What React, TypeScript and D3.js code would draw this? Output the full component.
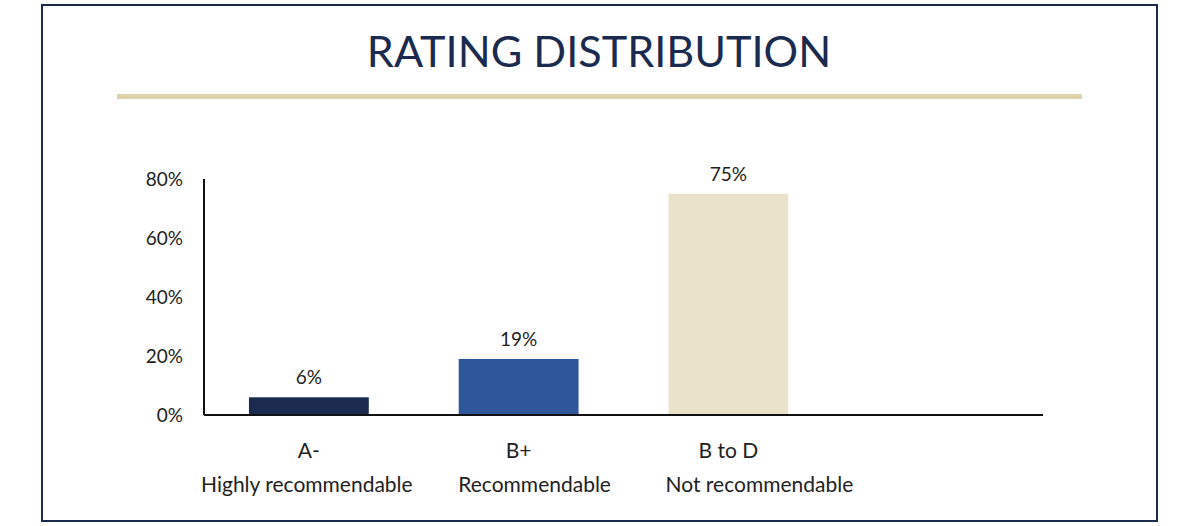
import * as d3 from "d3";
import { useEffect, useRef } from "react";

const TITLE = "RATING DISTRIBUTION";
const grades = ["A-", "B+", "B to D"];
const descriptions = ["Highly recommendable", "Recommendable", "Not recommendable"];
const shares = [0.06, 0.19, 0.75];
const barColors = ["#1b2b4f", "#2f559b", "#ebe2cb"];
const yTicks = [0, 0.2, 0.4, 0.6, 0.8];

// the description lines in the original are not quite centred under their bars
const descShift = [-2, 16, 31];

const NAVY = "#1b2b4f";
const GOLD = "#ded2aa";
const FONT = "Lato, 'Open Sans', sans-serif";

const App = () => {
  const svgRef = useRef(null);
  const width = 1199;
  const height = 526;

  useEffect(() => {
    const svg = d3.select(svgRef.current);
    svg.selectAll("*").remove();

    // frame
    svg
      .append("rect")
      .attr("x", 42)
      .attr("y", 5)
      .attr("width", 1115)
      .attr("height", 516)
      .attr("fill", "white")
      .attr("stroke", NAVY)
      .attr("stroke-width", 2);

    svg
      .append("text")
      .attr("x", 599)
      .attr("y", 67)
      .attr("text-anchor", "middle")
      .attr("font-family", FONT)
      .attr("font-size", 43.2)
      .attr("fill", NAVY)
      .text(TITLE);

    svg
      .append("line")
      .attr("x1", 117)
      .attr("x2", 1082)
      .attr("y1", 96.5)
      .attr("y2", 96.5)
      .attr("stroke", GOLD)
      .attr("stroke-width", 5);

    const left = 204;
    const right = 1043;
    const bottom = 415;
    const top = 179;

    // 4 slots, last one empty like in the original chart
    const x = d3
      .scaleBand()
      .domain([...grades, ""])
      .range([left, right])
      .paddingInner(0.4286)
      .paddingOuter(0.2143);

    const y = d3.scaleLinear().domain([0, 0.8]).range([bottom, top]);

    const g = svg.append("g");

    g.selectAll("rect.bar")
      .data(shares)
      .enter()
      .append("rect")
      .attr("class", "bar")
      .attr("x", (d, i) => x(grades[i]) as number)
      .attr("y", (d) => y(d))
      .attr("width", x.bandwidth())
      .attr("height", (d) => bottom - y(d))
      .attr("fill", (d, i) => barColors[i]);

    g.selectAll("text.val")
      .data(shares)
      .enter()
      .append("text")
      .attr("class", "val")
      .attr("x", (d, i) => (x(grades[i]) as number) + x.bandwidth() / 2)
      .attr("y", (d) => y(d) - 13)
      .attr("text-anchor", "middle")
      .attr("font-family", FONT)
      .attr("font-size", 19)
      .attr("fill", "#222")
      .text((d) => d3.format(".0%")(d));

    // y axis
    g.append("line")
      .attr("x1", left)
      .attr("x2", left)
      .attr("y1", y(0.8))
      .attr("y2", bottom)
      .attr("stroke", "#111")
      .attr("stroke-width", 2);

    g.selectAll("text.tick")
      .data(yTicks)
      .enter()
      .append("text")
      .attr("class", "tick")
      .attr("x", 183)
      .attr("y", (d) => y(d) + 6.5)
      .attr("text-anchor", "end")
      .attr("font-family", FONT)
      .attr("font-size", 19)
      .attr("fill", "#222")
      .text((d) => d3.format(".0%")(d));

    // x axis
    g.append("line")
      .attr("x1", left)
      .attr("x2", right)
      .attr("y1", bottom)
      .attr("y2", bottom)
      .attr("stroke", "#111")
      .attr("stroke-width", 2);

    grades.forEach((grade, i) => {
      const cx = (x(grade) as number) + x.bandwidth() / 2;
      g.append("text")
        .attr("x", cx)
        .attr("y", 458)
        .attr("text-anchor", "middle")
        .attr("font-family", FONT)
        .attr("font-size", 21)
        .attr("fill", "#222")
        .text(grade);
      g.append("text")
        .attr("x", cx + descShift[i])
        .attr("y", 492)
        .attr("text-anchor", "middle")
        .attr("font-family", FONT)
        .attr("font-size", 21)
        .attr("fill", "#222")
        .text(descriptions[i]);
    });
  }, []);

  return (
    <svg
      ref={svgRef}
      width={width}
      height={height}
      style={{ position: "absolute", left: 0, top: 0, background: "white" }}
    ></svg>
  );
};

export default App;
